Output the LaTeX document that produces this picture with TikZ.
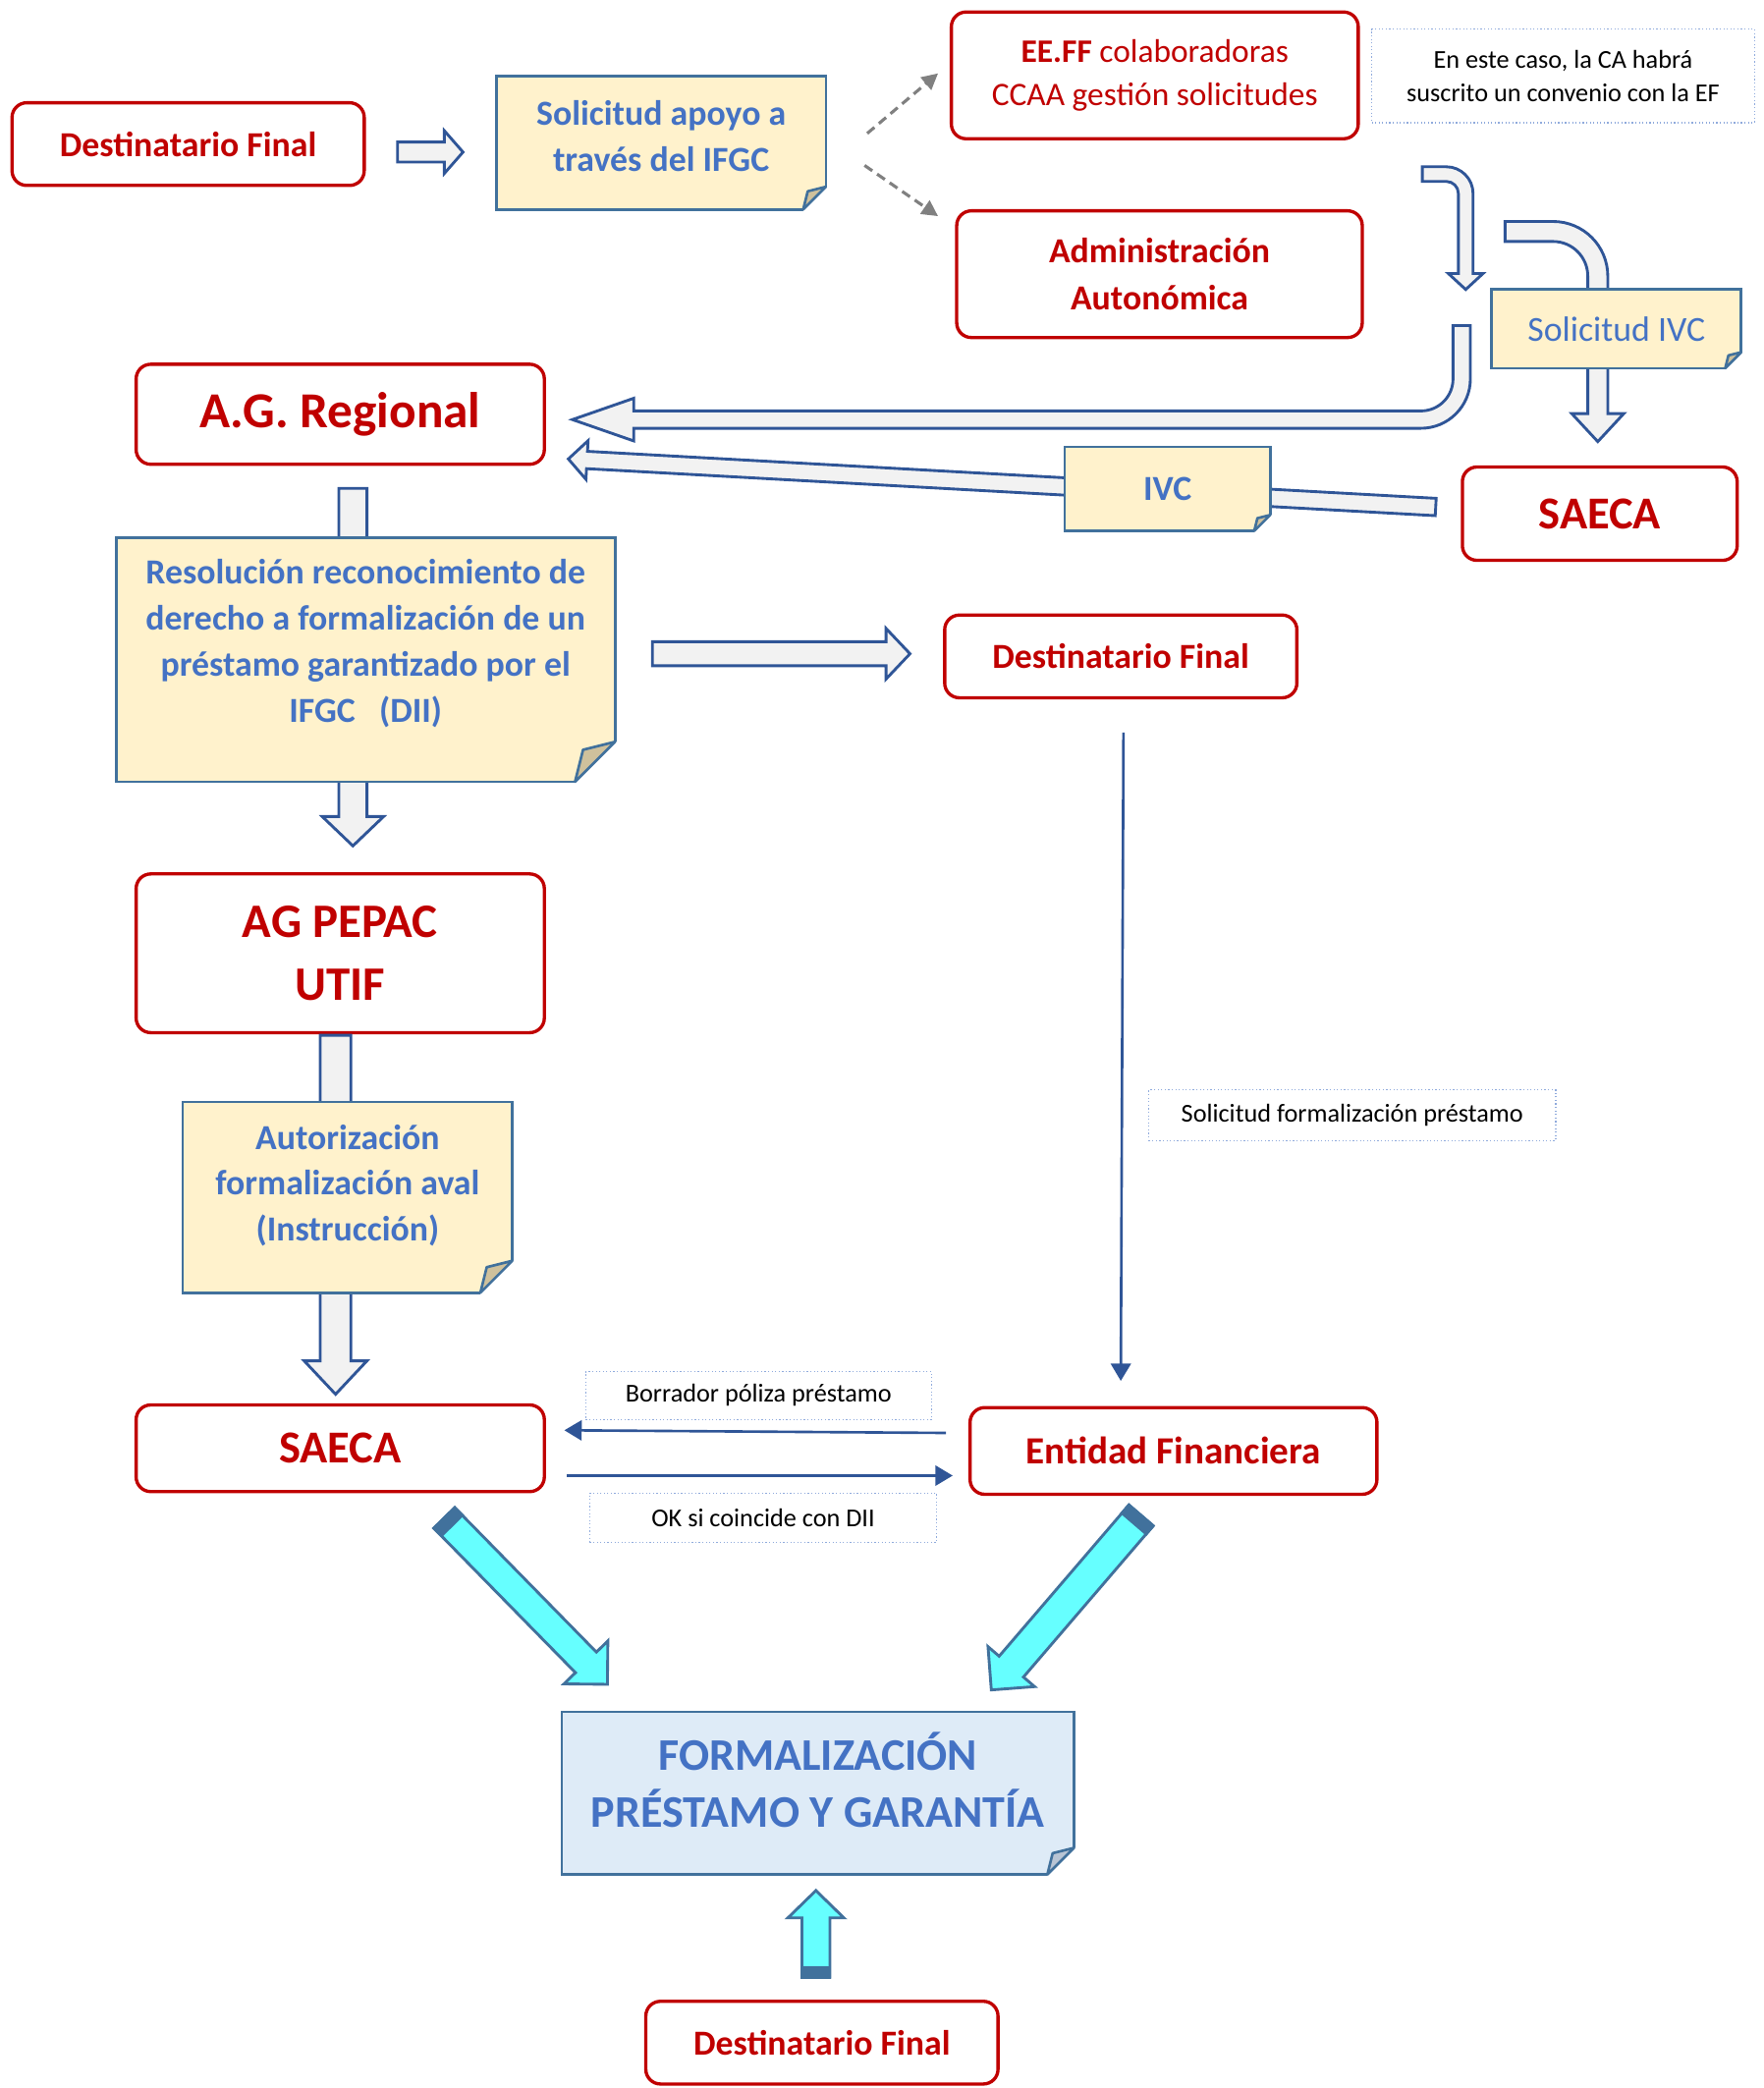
\documentclass[tikz,border=0pt]{standalone}
\usepackage{fontspec}
\setmainfont{Carlito}
\usetikzlibrary{arrows.meta,calc}
\usepackage{xcolor}
\definecolor{rojo}{HTML}{C00000}
\definecolor{azultexto}{HTML}{4472C4}
\definecolor{bordenota}{HTML}{41719C}
\definecolor{amarillo}{HTML}{FFF2CC}
\definecolor{celeste}{HTML}{DEEBF7}
\definecolor{bordeflecha}{HTML}{2F5597}
\definecolor{grisflecha}{HTML}{F2F2F2}
\definecolor{cian}{HTML}{66FFFF}
\definecolor{pliegue}{HTML}{CFC19C}
\definecolor{pliegueazul}{HTML}{B8C4D4}
\definecolor{punteado}{HTML}{8FAADC}

% flecha de bloque recta: [estilo]{desde}{hasta}{medio cuerpo}{media punta}{largo punta}
\newcommand{\flecha}[6][bloque]{%
  \coordinate (fA) at (#2);
  \coordinate (fB) at (#3);
  \coordinate (fC) at ($(fB)!#6*0.02cm!(fA)$);
  \filldraw[#1] ($(fA)!#4*0.02cm!90:(fB)$) -- ($(fC)!#4*0.02cm!-90:(fA)$)
    -- ($(fC)!#5*0.02cm!-90:(fA)$) -- (fB) -- ($(fC)!#5*0.02cm!90:(fA)$)
    -- ($(fC)!#4*0.02cm!90:(fA)$) -- ($(fA)!#4*0.02cm!-90:(fB)$) -- cycle;}
% extremo oscuro de las flechas cian
\newcommand{\tapa}[4]{%
  \coordinate (tA) at (#1);
  \coordinate (tB) at (#2);
  \coordinate (tD) at ($(tA)!#4*0.02cm!(tB)$);
  \filldraw[draw=bordenota,fill=bordenota,line width=1.2pt] ($(tA)!#3*0.02cm!90:(tB)$) -- ($(tD)!#3*0.02cm!-90:(tA)$)
    -- ($(tD)!#3*0.02cm!90:(tA)$) -- ($(tA)!#3*0.02cm!-90:(tB)$) -- cycle;}
% esquina doblada de las notas
\newcommand{\doblez}[3]{%
  \fill[white] ($(#1.south east)+(-#2,0)$) -- ($(#1.south east)+(-#2,3)$) -- ($(#1.south east)+(3,3)$)
    -- ($(#1.south east)+(3,-#2)$) -- ($(#1.south east)+(0,-#2)$) -- cycle;
  \filldraw[fill=#3,draw=bordenota,line width=1.1pt,line join=round] ($(#1.south east)+(-#2,0)$)
    -- ($(#1.south east)+(0,-#2)$) -- ($(#1.south east)+(-0.8*#2,-0.8*#2)$) -- cycle;}

\begin{document}
\begin{tikzpicture}[x=0.02cm,y=-0.02cm,
  caja/.style={draw=rojo,line width=1.4pt,rounded corners=0.22cm,fill=white,text=rojo,align=center,outer sep=0pt,inner sep=0pt},
  nota/.style={draw=bordenota,line width=1.1pt,fill=amarillo,text=azultexto,align=center,outer sep=0pt,inner sep=0pt},
  textonota/.style={text=azultexto,align=center,inner sep=0pt},
  cuadro/.style={draw=punteado,densely dotted,line width=0.5pt,align=center,outer sep=0pt,inner sep=0pt,font=\fontsize{11}{14.2}\selectfont},
  bloque/.style={draw=bordeflecha,fill=grisflecha,line width=1.2pt},
  cianflecha/.style={draw=bordenota,fill=cian,line width=1.2pt},
  fina/.style={draw=bordeflecha,line width=1.1pt,-{Triangle[length=0.26cm,width=0.3cm]}},
  gris/.style={draw=gray,line width=1.3pt,dash pattern=on 4pt off 2.5pt,-{Triangle[length=0.24cm,width=0.24cm]}}]

\useasboundingbox (0,0) rectangle (1322,1565);

% cajas rojas
\node[caja,minimum width=5.28cm,minimum height=1.24cm,font=\fontsize{15}{19}\selectfont\bfseries] (df1) at (141,108) {Destinatario Final};
\node[caja,minimum width=6.1cm,minimum height=1.9cm,font=\fontsize{14}{18.2}\selectfont] (eeff) at (865.5,56.5) {\textbf{EE.FF} colaboradoras\\CCAA gestión solicitudes};
\node[caja,minimum width=6.08cm,minimum height=1.9cm,font=\fontsize{15}{20}\selectfont\bfseries] (admin) at (869,205.5) {Administración\\Autonómica};
\node[caja,minimum width=6.12cm,minimum height=1.5cm,font=\fontsize{21.5}{26}\selectfont\bfseries] (agreg) at (255,310.5) {A.G. Regional};
\node[caja,minimum width=4.12cm,minimum height=1.4cm,font=\fontsize{19.5}{24}\selectfont\bfseries] (saeca1) at (1199,385) {SAECA};
\node[caja,minimum width=5.28cm,minimum height=1.24cm,font=\fontsize{15}{19}\selectfont\bfseries] (df2) at (840,492) {Destinatario Final};
\node[caja,minimum width=6.12cm,minimum height=2.38cm,font=\fontsize{20.5}{26.7}\selectfont\bfseries] (agpepac) at (255,714.5) {AG PEPAC\\UTIF};
\node[caja,minimum width=6.12cm,minimum height=1.3cm,font=\fontsize{19.5}{24}\selectfont\bfseries] (saeca2) at (255,1085.5) {SAECA};
\node[caja,minimum width=6.1cm,minimum height=1.3cm,font=\fontsize{16.4}{20}\selectfont\bfseries] (ef) at (879.5,1087.5) {Entidad Financiera};
\node[caja,minimum width=5.28cm,minimum height=1.24cm,font=\fontsize{15}{19}\selectfont\bfseries] (df3) at (616,1531) {Destinatario Final};

% cuadros de texto
\node[cuadro,minimum width=5.74cm,minimum height=1.4cm] (obs) at (1171.5,57) {En este caso, la CA habrá\\suscrito un convenio con la EF};
\node[cuadro,minimum width=6.1cm,minimum height=0.76cm] (solform) at (1013.5,836) {Solicitud formalización préstamo};
\node[cuadro,minimum width=5.18cm,minimum height=0.72cm] (borr) at (568.5,1046) {Borrador póliza préstamo};
\node[cuadro,minimum width=5.2cm,minimum height=0.74cm] (ok) at (572,1137.5) {OK si coincide con DII};

% flechas que pasan por debajo de las notas
\flecha{$(agreg.south)+(9.5,18)$}{$(agpepac.north)+(9.5,-21)$}{10.5}{23}{22}
\flecha{$(agpepac.south)+(-3.5,2)$}{$(saeca2.north)+(-3.5,-8)$}{11.5}{23.5}{25}
\flecha{$(saeca1.west)+(-20,-5)$}{$(agreg.east)+(18,33.5)$}{6.5}{14.5}{14}
\filldraw[bloque] (1066,125) -- (1084,125) arc[start angle=-90,end angle=0,radius=20] -- (1104,205) -- (1111.5,205)
  -- (1098.5,217) -- (1085.5,205) -- (1093,205) -- (1093,145) arc[start angle=0,end angle=-90,radius=9] -- (1066,136) -- cycle;
\filldraw[bloque] (1128,166) -- (1164,166) arc[start angle=-90,end angle=0,radius=41] -- (1205,310) -- (1217,310)
  -- (1197.5,331) -- (1178,310) -- (1190,310) -- (1190,207) arc[start angle=0,end angle=-90,radius=26] -- (1128,181) -- cycle;
\filldraw[bloque] (1089,244) -- (1102,244) -- (1102,284) arc[start angle=0,end angle=90,radius=37] -- (475,321) -- (475,330.5)
  -- (429,314.5) -- (475,298.5) -- (475,308) -- (1065,308) arc[start angle=90,end angle=0,radius=24] -- cycle;

% notas
\node[nota,minimum width=4.94cm,minimum height=2cm] (sol) at (495.5,107) {};
\node[textonota,font=\fontsize{15}{19.4}\selectfont\bfseries] (sol-t) at ($(sol)+(0,-5)$) {Solicitud apoyo a\\través del IFGC};
\node[nota,minimum width=3.74cm,minimum height=1.18cm,font=\fontsize{15}{19}\selectfont] (solivc) at (1211.5,246.5) {Solicitud IVC};
\node[nota,minimum width=3.08cm,minimum height=1.26cm,font=\fontsize{15}{19}\selectfont\bfseries] (ivc) at (875,366.5) {IVC};
\node[nota,minimum width=7.48cm,minimum height=3.66cm] (resol) at (274,494.5) {};
\node[textonota,font=\fontsize{15}{19.7}\selectfont\bfseries] (resol-t) at ($(resol)+(0,-12)$) {Resolución reconocimiento de\\derecho a formalización de un\\préstamo garantizado por el\\IFGC\ \ \ (DII)};
\node[nota,minimum width=4.94cm,minimum height=2.86cm] (aut) at (260.5,897.5) {};
\node[textonota,font=\fontsize{15}{19.6}\selectfont\bfseries] (aut-t) at ($(aut)+(0,-9)$) {Autorización\\formalización aval\\(Instrucción)};
\node[nota,fill=celeste,minimum width=7.68cm,minimum height=2.44cm] (form) at (613,1344) {};
\node[textonota,font=\fontsize{19.3}{24.5}\selectfont\bfseries] (form-t) at ($(form)+(0,-10)$) {FORMALIZACIÓN\\PRÉSTAMO Y GARANTÍA};
\doblez{sol}{17}{pliegue}
\doblez{solivc}{12}{pliegue}
\doblez{ivc}{12}{pliegue}
\doblez{resol}{30}{pliegue}
\doblez{aut}{24}{pliegue}
\doblez{form}{20}{pliegueazul}

% flechas de bloque restantes
\flecha{$(df1.east)+(25,6)$}{$(sol.west)+(-25,7)$}{7.5}{16}{14}
\flecha{$(resol.east)+(28,-4.5)$}{$(df2.west)+(-26,-2)$}{9}{19}{18}

% flechas discontinuas
\draw[gris] ($(sol.east)+(31,-7)$) -- ($(eeff.west)+(-10,-1.5)$);
\draw[gris] ($(sol.east)+(29,17)$) -- ($(admin.west)+(-14,-43.5)$);

% flechas finas
\draw[fina] ($(df2.south)+(2,26)$) -- ($(ef.north)+(-39.5,-20)$);
\draw[fina] ($(ef.west)+(-18,-13.5)$) -- ($(saeca2.east)+(15,-13.5)$);
\draw[fina] ($(saeca2.east)+(17,20.5)$) -- ($(ef.west)+(-13,18.5)$);

% flechas cian
\flecha[cianflecha]{$(saeca2.south)+(78,19.7)$}{$(form.north west)+(34.2,-20.6)$}{11}{23}{23}
\tapa{$(saeca2.south)+(78,19.7)$}{$(form.north west)+(34.2,-20.6)$}{11}{8}
\flecha[cianflecha]{$(ef.south)+(-24.3,15.8)$}{$(form.north east)+(-62,-16.4)$}{12}{23}{23}
\tapa{$(ef.south)+(-24.3,15.8)$}{$(form.north east)+(-62,-16.4)$}{12}{8}
\flecha[cianflecha]{$(df3.north)+(-4.5,-18)$}{$(form.south)+(-1.5,12)$}{10.5}{21}{20.5}
\tapa{$(df3.north)+(-4.5,-18)$}{$(form.south)+(-1.5,12)$}{10.5}{7}
\end{tikzpicture}
\end{document}
